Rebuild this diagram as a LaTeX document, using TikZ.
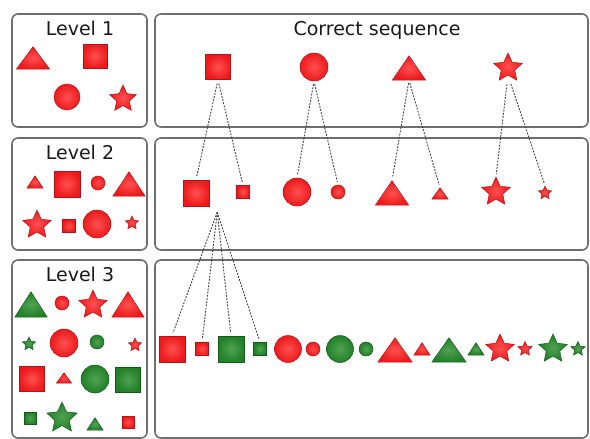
\documentclass[tikz,border=0pt]{standalone}
\usepackage{fontspec}
\usetikzlibrary{shapes.geometric}
\newfontfamily\ttlfont{DejaVu Sans}

\definecolor{rd}{RGB}{236,26,28}
\definecolor{rdl}{RGB}{255,80,80}
\definecolor{rdd}{RGB}{185,18,22}
\definecolor{gn}{RGB}{34,128,40}
\definecolor{gnl}{RGB}{80,162,82}
\definecolor{gnd}{RGB}{18,90,26}
\definecolor{panelgray}{RGB}{110,110,110}
\definecolor{linkgray}{RGB}{60,60,60}

\tikzset{
  panel/.style={draw=panelgray, line width=1.6pt, rounded corners=6pt},
  ttl/.style={font=\ttlfont\fontsize{19}{22}\selectfont, text=black!90, anchor=base, inner sep=0pt},
  rsh/.style={draw=rdd, line width=0.5pt, inner color=rdl, outer color=rd},
  gsh/.style={draw=gnd, line width=0.5pt, inner color=gnl, outer color=gn},
  sq/.style={rectangle, inner sep=0pt, minimum size=#1},
  ball/.style={circle, inner sep=0pt, minimum size=#1},
  starr/.style={star, star points=5, star point ratio=2.1, inner sep=0pt, minimum size=#1},
  tbox/.style={rectangle, inner sep=0pt},
  link/.style={draw=linkgray, line width=0.9pt, dash pattern=on 1.8pt off 1.4pt},
}

% triangle: name, x, y, width, height, look
\newcommand\trinode[6]{%
  \node[tbox, minimum width=#4pt, minimum height=#5pt] (#1) at (#2,#3) {};
  \path[#6] (#1.south west) -- (#1.south east) -- (#1.north) -- cycle;}

\begin{document}
\begin{tikzpicture}[x=1pt, y=-1pt]
\useasboundingbox (0,0) rectangle (590,439);

% panels
\draw[panel] (12,14) rectangle (147,127);
\draw[panel] (155,14) rectangle (588,127);
\draw[panel] (12,138) rectangle (147,250);
\draw[panel] (155,138) rectangle (588,250);
\draw[panel] (12,260) rectangle (147,438);
\draw[panel] (155,260) rectangle (588,438);

% titles
\node[ttl] (t1) at (80,35) {Level 1};
\node[ttl] (t0) at (377,35) {Correct sequence};
\node[ttl] (t2) at (80,159) {Level 2};
\node[ttl] (t3) at (80,281) {Level 3};

% Level 1 pool
\trinode{a1}{33}{58}{33}{22}{rsh}
\node[sq=24pt, rsh] (a2) at (95,56) {};
\node[ball=26pt, rsh] (a3) at (67,97) {};
\node[starr=28pt, rsh] (a4) at (123,99) {};

% correct sequence, level 1
\node[sq=25pt, rsh] (s1) at (218,67) {};
\node[ball=28pt, rsh] (s2) at (314,67) {};
\trinode{s3}{409}{68}{33}{24}{rsh}
\node[starr=30pt, rsh] (s4) at (508,68) {};

% Level 2 pool
\trinode{p1}{35}{182}{16}{12}{rsh}
\node[sq=26pt, rsh] (p2) at (67,184) {};
\node[ball=14pt, rsh] (p3) at (98,183) {};
\trinode{p4}{129}{184}{32}{24}{rsh}
\node[starr=30pt, rsh] (p5) at (37,225) {};
\node[sq=13pt, rsh] (p6) at (69,226) {};
\node[ball=28pt, rsh] (p7) at (97,224) {};
\node[starr=14pt, rsh] (p8) at (132,223) {};

% correct sequence, level 2
\node[sq=26pt, rsh] (b1) at (196,193) {};
\node[sq=13pt, rsh] (b2) at (243,192) {};
\node[ball=28pt, rsh] (b3) at (297,192) {};
\node[ball=14pt, rsh] (b4) at (338,192) {};
\trinode{b5}{392}{193}{33}{24}{rsh}
\trinode{b6}{440}{193.5}{16}{11}{rsh}
\node[starr=30pt, rsh] (b7) at (496,192) {};
\node[starr=14pt, rsh] (b8) at (545,193) {};

% Level 3 pool
\trinode{q1}{31}{304.5}{32}{25}{gsh}
\node[ball=14pt, rsh] (q2) at (62,303) {};
\node[starr=30pt, rsh] (q3) at (93,305) {};
\trinode{q4}{128}{304.5}{32}{25}{rsh}
\node[starr=14pt, gsh] (q5) at (29,344) {};
\node[ball=28pt, rsh] (q6) at (64,343) {};
\node[ball=14pt, gsh] (q7) at (97,342) {};
\node[starr=14pt, rsh] (q8) at (135,345) {};
\node[sq=25pt, rsh] (q9) at (32,379) {};
\trinode{q10}{64}{378}{15}{10}{rsh}
\node[ball=28pt, gsh] (q11) at (95,379) {};
\node[sq=25pt, gsh] (q12) at (128,380) {};
\node[sq=12pt, gsh] (q13) at (30,418) {};
\node[starr=32pt, gsh] (q14) at (62,418) {};
\trinode{q15}{95}{424}{16}{12}{gsh}
\node[sq=12pt, rsh] (q16) at (128,422) {};

% correct sequence, level 3
\node[sq=26pt, rsh] (c1) at (172,349) {};
\node[sq=13pt, rsh] (c2) at (202,349) {};
\node[sq=26pt, gsh] (c3) at (231,349) {};
\node[sq=13pt, gsh] (c4) at (260,349) {};
\node[ball=27pt, rsh] (c5) at (288,349) {};
\node[ball=14pt, rsh] (c6) at (313,349) {};
\node[ball=27pt, gsh] (c7) at (340,349) {};
\node[ball=14pt, gsh] (c8) at (366,349) {};
\trinode{c9}{395}{350}{34}{24}{rsh}
\trinode{c10}{422}{349}{16}{12}{rsh}
\trinode{c11}{449}{350}{34}{24}{gsh}
\trinode{c12}{476}{349}{16}{12}{gsh}
\node[starr=30pt, rsh] (c13) at (500,349) {};
\node[starr=15pt, rsh] (c14) at (525,349) {};
\node[starr=30pt, gsh] (c15) at (553,349) {};
\node[starr=15pt, gsh] (c16) at (578,349) {};

% level 1 -> level 2 refinement links
\draw[link, shorten <=4pt, shorten >=3pt] (s1.south) -- (b1.north);
\draw[link, shorten <=4pt, shorten >=3pt] (s1.south) -- (b2.north);
\draw[link, shorten <=3pt, shorten >=3pt] (s2.south) -- (b3.north);
\draw[link, shorten <=3pt, shorten >=3pt] (s2.south) -- (b4.north);
\draw[link, shorten <=3pt, shorten >=3pt] (s3.south) -- (b5.north);
\draw[link, shorten <=3pt, shorten >=3pt] (s3.south) -- (b6.north);
\draw[link, shorten <=9pt, shorten >=2pt] (s4.south) -- (b7.north);
\draw[link, shorten <=9pt, shorten >=2pt] (s4.south) -- (b8.north);

% level 2 -> level 3 fan from the large square
\coordinate (fan) at ([xshift=8pt, yshift=-6pt]b1.south east);
\draw[link, shorten >=3pt] (fan) -- (c1.north);
\draw[link, shorten >=3pt] (fan) -- (c2.north);
\draw[link, shorten >=3pt] (fan) -- (c3.north);
\draw[link, shorten >=3pt] (fan) -- (c4.north);
\end{tikzpicture}
\end{document}
